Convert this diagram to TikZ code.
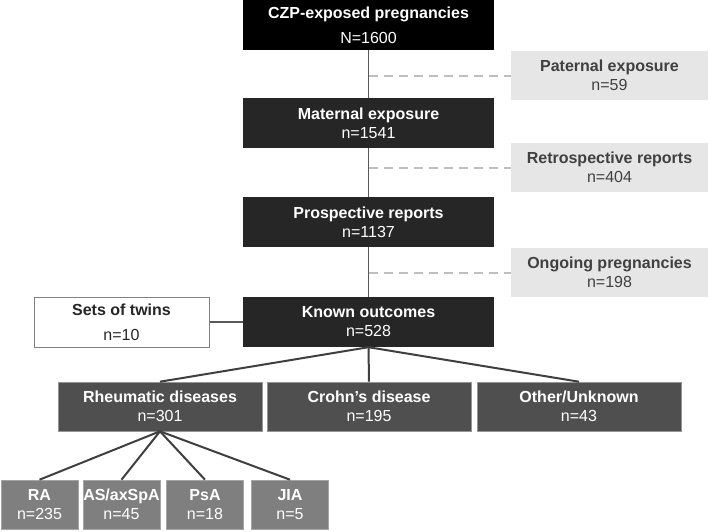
\documentclass[tikz,border=0pt]{standalone}
\usepackage{fontspec}
\setmainfont{Liberation Sans}
\definecolor{cBlack}{HTML}{000000}
\definecolor{cDark}{HTML}{262626}
\definecolor{cMid}{HTML}{4F4F4F}
\definecolor{cLow}{HTML}{7F7F7F}
\definecolor{cPale}{HTML}{E6E6E6}
\definecolor{cPaleText}{HTML}{404040}
\definecolor{cLine}{HTML}{595959}
\definecolor{cFan}{HTML}{3F3F3F}
\definecolor{cDash}{HTML}{BFBFBF}
\definecolor{cTwin}{HTML}{808080}
\begin{document}
\begin{tikzpicture}[x=1pt,y=-1pt,
  box/.style={rectangle, inner sep=0pt, align=center, text=white,
    font=\fontsize{16}{19}\selectfont},
  topbox/.style={box, fill=cBlack, minimum width=251pt, minimum height=50pt,
    font=\fontsize{16}{25}\selectfont},
  mainbox/.style={box, fill=cDark, minimum width=251pt, minimum height=50pt},
  sidebox/.style={box, fill=cPale, text=cPaleText, minimum width=197pt, minimum height=49pt},
  twinbox/.style={box, fill=white, draw=cTwin, line width=1pt, text=cDark,
    minimum width=175pt, minimum height=50pt, font=\fontsize{16}{25}\selectfont},
  rowbox/.style={box, fill=cMid, draw=cMid!60!white, line width=0.6pt, minimum width=204pt, minimum height=49pt},
  leafbox/.style={box, fill=cLow, draw=cLow!70!white, line width=0.6pt, minimum width=77pt, minimum height=49pt},
  mainline/.style={draw=cLine, line width=1.6pt},
  fanline/.style={draw=cFan, line width=2pt},
  dashline/.style={draw=cDash, line width=2pt, dash pattern=on 9pt off 6pt},
  twinline/.style={draw=cLine, line width=2pt}
]
\useasboundingbox (0,0) rectangle (709,531);

% main column
\node[topbox]  (czp)  at (368.5,25)  {\bfseries CZP-exposed pregnancies\\N=1600};
\node[mainbox] (mat)  at (368.5,123) {\bfseries Maternal exposure\\n=1541};
\node[mainbox] (pro)  at (368.5,222) {\bfseries Prospective reports\\n=1137};
\node[mainbox] (kno)  at (368.5,322) {\bfseries Known outcomes\\n=528};

% side boxes
\node[sidebox] (pat) at (609.5,75.5)  {\bfseries Paternal exposure\\n=59};
\node[sidebox] (ret) at (609.5,167.5) {\bfseries Retrospective reports\\n=404};
\node[sidebox] (ong) at (609.5,272.5) {\bfseries Ongoing pregnancies\\n=198};

% twins
\node[twinbox] (twi) at (121.5,322) {\bfseries Sets of twins\\n=10};

% second row
\node[rowbox] (rhe) at (160,406.5) {\bfseries Rheumatic diseases\\n=301};
\node[rowbox] (cro) at (369,406.5) {\bfseries Crohn’s disease\\n=195};
\node[rowbox] (oth) at (579,406.5) {\bfseries Other/Unknown\\n=43};

% leaves
\node[leafbox] (ra)  at (39.5,504.5)  {\bfseries RA\\n=235};
\node[leafbox] (as)  at (121.5,504.5) {\bfseries AS/axSpA\\n=45};
\node[leafbox] (psa) at (205,504.5)   {\bfseries PsA\\n=18};
\node[leafbox] (jia) at (290,504.5)   {\bfseries JIA\\n=5};

% dashed exclusions (drawn first so the main line sits on top)
\draw[dashline] (pat.west -| czp.south) -- (pat.west);
\draw[dashline] (ret.west -| czp.south) -- (ret.west);
\draw[dashline] (ong.west -| czp.south) -- (ong.west);

% main vertical line
\draw[mainline] (czp.south) -- (mat.north);
\draw[mainline] (mat.south) -- (pro.north);
\draw[mainline] (pro.south) -- (kno.north);

% twins link
\draw[twinline] (twi.east) -- (kno.west);

% fan to second row
\draw[fanline] (kno.south) -- (rhe.north);
\draw[fanline] (kno.south) -- (cro.north);
\draw[fanline] (kno.south) -- (oth.north);

% fan to leaves
\draw[fanline] (rhe.south) -- (ra.north);
\draw[fanline] (rhe.south) -- (as.north);
\draw[fanline] (rhe.south) -- (psa.north);
\draw[fanline] (rhe.south) -- (jia.north);
\end{tikzpicture}
\end{document}
